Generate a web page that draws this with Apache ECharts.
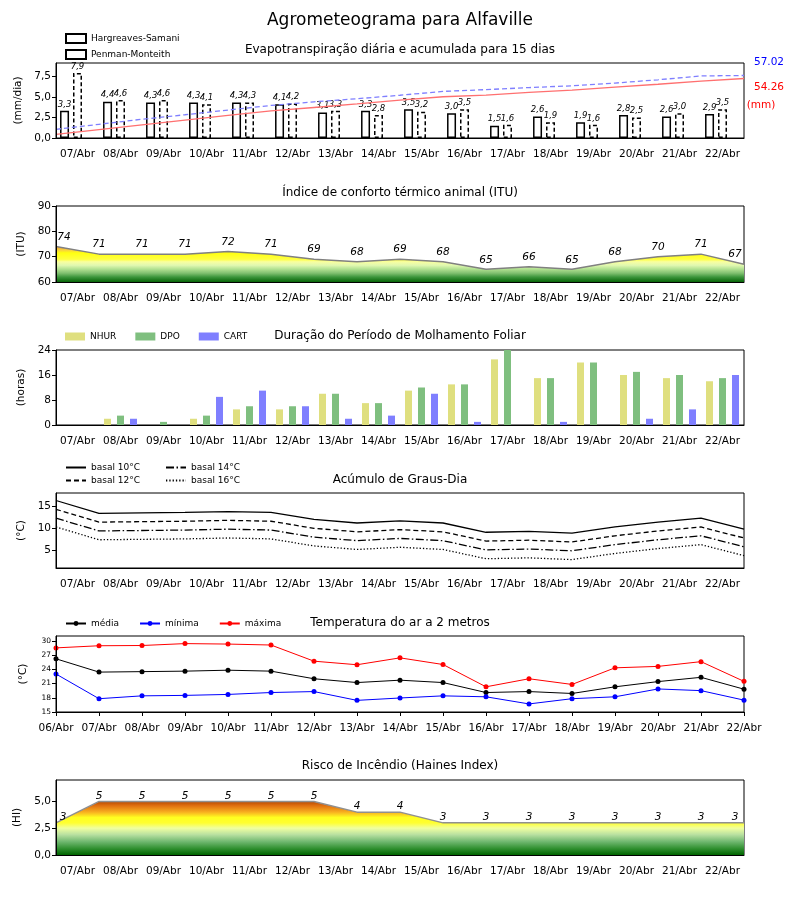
<!DOCTYPE html>
<html><head><meta charset="utf-8">
<script src="https://cdn.jsdelivr.net/npm/echarts@6/dist/echarts.min.js"></script>
<style>html,body{margin:0;padding:0;background:#fff}#c{width:800px;height:900px}</style>
</head><body><div id="c"></div>
<script>
// ---------------- DATA ----------------
const dias = ['07/Abr','08/Abr','09/Abr','10/Abr','11/Abr','12/Abr','13/Abr','14/Abr','15/Abr','16/Abr','17/Abr','18/Abr','19/Abr','20/Abr','21/Abr','22/Abr'];
const diasTemp = ['06/Abr','07/Abr','08/Abr','09/Abr','10/Abr','11/Abr','12/Abr','13/Abr','14/Abr','15/Abr','16/Abr','17/Abr','18/Abr','19/Abr','20/Abr','21/Abr','22/Abr'];

const etHS = [3.3,4.4,4.3,4.3,4.3,4.1,3.1,3.3,3.5,3.0,1.5,2.6,1.9,2.8,2.6,2.9];
const etPM = [7.9,4.6,4.6,4.1,4.3,4.2,3.3,2.8,3.2,3.5,1.6,1.9,1.6,2.5,3.0,3.5];
const etAcumHS = [3.3,7.7,12.0,16.3,20.6,24.7,27.8,31.1,34.6,37.6,39.1,41.7,43.6,46.4,49.0,51.9,54.26];
const etAcumPM = [7.9,12.5,17.1,21.2,25.5,29.7,33.0,35.8,39.0,42.5,44.1,46.0,47.6,50.1,53.1,56.6,57.02];
const etTicks = [0,2.5,5,7.5];

const itu = [74,71,71,71,72,71,69,68,69,68,65,66,65,68,70,71,67];

const molhNHUR = [0,2,0,2,5,5,10,7,11,13,21,15,20,16,15,14];
const molhDPO  = [0,3,1,3,6,6,10,7,12,13,24,15,20,17,16,15];
const molhCART = [0,2,0,9,11,6,2,3,10,1,0,1,0,2,5,16];

const gdBasal10 = [16.3,13.4,13.5,13.6,13.8,13.6,12.0,11.2,11.7,11.2,9.1,9.3,8.9,10.3,11.4,12.3,9.8];
const gdBasal12 = [14.3,11.4,11.5,11.6,11.8,11.6,10.0,9.2,9.7,9.2,7.1,7.3,6.9,8.3,9.4,10.3,7.8];
const gdBasal14 = [12.3,9.4,9.5,9.6,9.8,9.6,8.0,7.2,7.7,7.2,5.1,5.3,4.9,6.3,7.4,8.3,5.8];
const gdBasal16 = [10.3,7.4,7.5,7.6,7.8,7.6,6.0,5.2,5.7,5.2,3.1,3.3,2.9,4.3,5.4,6.3,3.8];
const gdTicks = [5,10,15];

const tMedia = [26.2,23.4,23.5,23.6,23.8,23.6,22.0,21.2,21.7,21.2,19.1,19.3,18.9,20.3,21.4,22.3,19.8];
const tMin   = [23.0,17.8,18.4,18.5,18.7,19.1,19.3,17.45,17.95,18.4,18.2,16.7,17.8,18.2,19.85,19.5,17.5];
const tMax   = [28.5,28.95,29.0,29.4,29.3,29.1,25.7,24.95,26.4,25.0,20.3,22.0,20.8,24.3,24.6,25.6,21.45];
const tempTicks = [15,18,21,24,27,30];

const haines = [3,5,5,5,5,5,5,4,4,3,3,3,3,3,3,3,3];
const hainesTicks = [0,2.5,5];

// ---------------- STYLE / LAYOUT ----------------
const FONT = 'DejaVu Sans';
const comma1 = v => Number(v).toFixed(1).replace('.', ',');
const grids = [[63,75],[206,76],[350,75],[493,75],[636,76],[780,75]];

function mainX(gi, data, bg, fs) {
  return {type:'category', gridIndex:gi, data:data, boundaryGap:bg, z:10,
    axisLine:{lineStyle:{color:'#000',width:1}},
    axisTick:{alignWithLabel:true, length:4, lineStyle:{color:'#000'}},
    axisLabel:{color:'#000', fontSize:fs, fontFamily:FONT, margin:11, interval:0}};
}
function hiddenX(gi) {
  return {type:'category', gridIndex:gi, data:diasTemp, boundaryGap:false, show:false};
}
function yAx(gi, name, gap, min, max, extra, lab, fs) {
  const a = {type:'value', gridIndex:gi, min:min, max:max, z:10,
    name:name, nameLocation:'middle', nameGap:gap,
    nameTextStyle:{color:'#000', fontSize:10.5, fontFamily:FONT},
    splitLine:{show:false},
    axisLine:{show:true, lineStyle:{color:'#000'}},
    axisTick:{show:true, length:4, lineStyle:{color:'#000'}},
    axisLabel:Object.assign({color:'#000', fontSize:fs||10.5, fontFamily:FONT, margin:5}, lab||{})};
  return Object.assign(a, extra||{});
}
const grad = stops => new echarts.graphic.LinearGradient(0,0,0,1, stops.map(s=>({offset:s[0], color:s[1]})));

const ituGrad = grad([[0,'#f0a030'],[0.1,'#f8d040'],[0.18,'#ffff10'],[0.36,'#ffff40'],[0.43,'#f8ffa0'],[0.53,'#e0f8b0'],[0.64,'#b0e090'],[0.75,'#80c070'],[0.86,'#3c963c'],[1,'#086408']]);
const hainesGrad = grad([[0,'#b84a00'],[0.08,'#e07010'],[0.2,'#f8b020'],[0.3,'#ffff20'],[0.4,'#ffff30'],[0.5,'#f0ffa0'],[0.62,'#b8e0a0'],[0.75,'#70b870'],[0.88,'#309030'],[1,'#006400']]);

const edgeLabels = (arr, dx0, dx1) => arr.map((v,i)=>({value:v, label: i===0?{offset:[dx0,0]}:(i===arr.length-1?{offset:[dx1,0]}:{})}));

const lblItalic = (fs) => ({fontStyle:'italic', fontSize:fs, fontFamily:FONT, color:'#000'});
const legText = {fontSize:9, fontFamily:FONT, color:'#000'};

const chart = echarts.init(document.getElementById('c'), null, {renderer:'canvas'});
const option = {
  animation:false,
  backgroundColor:'#fff',
  textStyle:{fontFamily:FONT},
  title:[
    {text:'Agrometeograma para Alfaville', left:'center', top:7, textStyle:{fontSize:17, fontWeight:'normal', color:'#000', fontFamily:FONT}},
    {text:'Evapotranspiração diária e acumulada para 15 dias', left:'center', top:44},
    {text:'Índice de conforto térmico animal (ITU)', left:'center', top:187},
    {text:'Duração do Período de Molhamento Foliar', left:'center', top:330},
    {text:'Acúmulo de Graus-Dia', left:'center', top:474},
    {text:'Temperatura do ar a 2 metros', left:'center', top:617},
    {text:'Risco de Incêndio (Haines Index)', left:'center', top:760}
  ].map((t,i)=> i===0?t:Object.assign(t,{padding:0, textStyle:{fontSize:12, fontWeight:'normal', color:'#000', fontFamily:FONT}})),
  legend:[
    {data:['Hargreaves-Samani','Penman-Monteith'], orient:'vertical', left:65, top:33, itemGap:5, itemWidth:20, itemHeight:9, icon:'rect', selectedMode:false, padding:0, textStyle:legText},
    {data:['NHUR','DPO','CART'], orient:'horizontal', left:65, top:332, itemGap:19, itemWidth:20, itemHeight:8, icon:'rect', selectedMode:false, padding:0, textStyle:legText},
    {data:['basal 10°C','basal 12°C'], orient:'vertical', left:65, top:463, itemGap:4, itemWidth:20, itemHeight:9, selectedMode:false, padding:0, itemStyle:{opacity:0}, textStyle:legText},
    {data:['basal 14°C','basal 16°C'], orient:'vertical', left:165, top:463, itemGap:4, itemWidth:20, itemHeight:9, selectedMode:false, padding:0, itemStyle:{opacity:0}, textStyle:legText},
    {data:['média','mínima','máxima'], orient:'horizontal', left:65, top:619, itemGap:20, itemWidth:20, itemHeight:6, selectedMode:false, padding:0, textStyle:legText}
  ],
  grid: grids.map(g=>({left:56, width:688, top:g[0], height:g[1], show:true, borderColor:'#000', borderWidth:1, backgroundColor:'transparent', containLabel:false})),
  xAxis:[
    mainX(0, dias, true, 10.5), hiddenX(0),
    mainX(1, dias, true, 10.5), hiddenX(1),
    mainX(2, dias, true, 10.5),
    mainX(3, dias, true, 10.5), hiddenX(3),
    mainX(4, diasTemp, false, 10.5),
    mainX(5, dias, true, 10.5), hiddenX(5)
  ],
  yAxis:[
    yAx(0,'(mm/dia)',31,0,9.1,{axisTick:{show:true,length:4,lineStyle:{color:'#000'},customValues:etTicks}},{customValues:etTicks, formatter:comma1}),
    {type:'value', gridIndex:0, min:0, max:68.4, show:false},
    yAx(1,'(ITU)',27,60,90,{interval:10}),
    yAx(2,'(horas)',27,0,24,{interval:8}),
    yAx(3,'(°C)',27,1,18,{axisTick:{show:true,length:4,lineStyle:{color:'#000'},customValues:gdTicks}},{customValues:gdTicks}),
    yAx(4,'(°C)',27,15,31,{axisTick:{show:true,length:4,lineStyle:{color:'#000'},customValues:tempTicks}},{customValues:tempTicks},7.5),
    yAx(5,'(HI)',33,0,7,{axisTick:{show:true,length:4,lineStyle:{color:'#000'},customValues:hainesTicks}},{customValues:hainesTicks, formatter:comma1})
  ],
  series:[
    {name:'Hargreaves-Samani', type:'bar', xAxisIndex:0, yAxisIndex:0, data:etHS, barWidth:9, barGap:'44%',
      itemStyle:{color:'#fff', borderColor:'#000', borderWidth:1.5},
      label:Object.assign({show:true, position:'top', distance:2, formatter:p=>comma1(p.value)}, lblItalic(8.5))},
    {name:'Penman-Monteith', type:'bar', xAxisIndex:0, yAxisIndex:0, data:etPM, barWidth:9, barGap:'44%',
      itemStyle:{color:'#fff', borderColor:'#000', borderWidth:1.5, borderType:[4,2.5]},
      label:Object.assign({show:true, position:'top', distance:2, formatter:p=>comma1(p.value)}, lblItalic(8.5))},
    {name:'_vazio', type:'bar', xAxisIndex:0, yAxisIndex:0, data:dias.map(()=>null), barWidth:9, barGap:'44%'},
    {name:'Acum HS', type:'line', xAxisIndex:1, yAxisIndex:1, data:etAcumHS, symbol:'none', z:5,
      lineStyle:{color:'#ff7070', width:1.3}},
    {name:'Acum PM', type:'line', xAxisIndex:1, yAxisIndex:1, data:etAcumPM, symbol:'none', z:5,
      lineStyle:{color:'#7f7fff', width:1.3, type:[5,3]}},

    {name:'ITU', type:'line', xAxisIndex:3, yAxisIndex:2, data:edgeLabels(itu,8,-9),
      symbol:'circle', symbolSize:0.1, showSymbol:true, itemStyle:{color:'transparent'},
      lineStyle:{color:'#808080', width:1.5}, areaStyle:{color:ituGrad, opacity:1},
      label:Object.assign({show:true, position:'top', distance:4}, lblItalic(10.5))},

    {name:'NHUR', type:'bar', xAxisIndex:4, yAxisIndex:3, data:molhNHUR, barWidth:7, barGap:'86%', itemStyle:{color:'#dfdf7f'}},
    {name:'DPO', type:'bar', xAxisIndex:4, yAxisIndex:3, data:molhDPO, barWidth:7, barGap:'86%', itemStyle:{color:'#7fbf7f'}},
    {name:'CART', type:'bar', xAxisIndex:4, yAxisIndex:3, data:molhCART, barWidth:7, barGap:'86%', itemStyle:{color:'#7f7fff'}},

    {name:'basal 10°C', type:'line', xAxisIndex:6, yAxisIndex:4, data:gdBasal10, symbol:'none', itemStyle:{color:'#000', opacity:0}, lineStyle:{color:'#000', width:1.3}},
    {name:'basal 12°C', type:'line', xAxisIndex:6, yAxisIndex:4, data:gdBasal12, symbol:'none', itemStyle:{color:'#000', opacity:0}, lineStyle:{color:'#000', width:1.3, type:[5,3]}},
    {name:'basal 14°C', type:'line', xAxisIndex:6, yAxisIndex:4, data:gdBasal14, symbol:'none', itemStyle:{color:'#000', opacity:0}, lineStyle:{color:'#000', width:1.3, type:[8,2.5,1.5,2.5]}},
    {name:'basal 16°C', type:'line', xAxisIndex:6, yAxisIndex:4, data:gdBasal16, symbol:'none', itemStyle:{color:'#000', opacity:0}, lineStyle:{color:'#000', width:1.3, type:[1.3,2]}},

    {name:'média', type:'line', xAxisIndex:7, yAxisIndex:5, data:tMedia, symbol:'circle', symbolSize:5, itemStyle:{color:'#000'}, lineStyle:{color:'#000', width:1}},
    {name:'mínima', type:'line', xAxisIndex:7, yAxisIndex:5, data:tMin, symbol:'circle', symbolSize:5, itemStyle:{color:'#0000ff'}, lineStyle:{color:'#0000ff', width:1}},
    {name:'máxima', type:'line', xAxisIndex:7, yAxisIndex:5, data:tMax, symbol:'circle', symbolSize:5, itemStyle:{color:'#ff0000'}, lineStyle:{color:'#ff0000', width:1}},

    {name:'Haines', type:'line', xAxisIndex:9, yAxisIndex:6, data:edgeLabels(haines,7,-9),
      symbol:'circle', symbolSize:0.1, showSymbol:true, itemStyle:{color:'transparent'},
      lineStyle:{color:'#909090', width:1.5}, areaStyle:{color:hainesGrad, opacity:1},
      label:Object.assign({show:true, position:'top', distance:0}, lblItalic(10.5))}
  ],
  graphic:[
    {type:'text', x:769, y:62, style:{text:etAcumPM[etAcumPM.length-1].toFixed(2), fill:'#0000ff', fontSize:10.5, fontFamily:FONT, textAlign:'center', textVerticalAlign:'middle'}},
    {type:'text', x:769, y:87, style:{text:etAcumHS[etAcumHS.length-1].toFixed(2), fill:'#ff0000', fontSize:10.5, fontFamily:FONT, textAlign:'center', textVerticalAlign:'middle'}},
    {type:'text', x:761, y:105, style:{text:'(mm)', fill:'#ff0000', fontSize:10.5, fontFamily:FONT, textAlign:'center', textVerticalAlign:'middle'}}
  ]
};
chart.setOption(option);
</script>
</body></html>
